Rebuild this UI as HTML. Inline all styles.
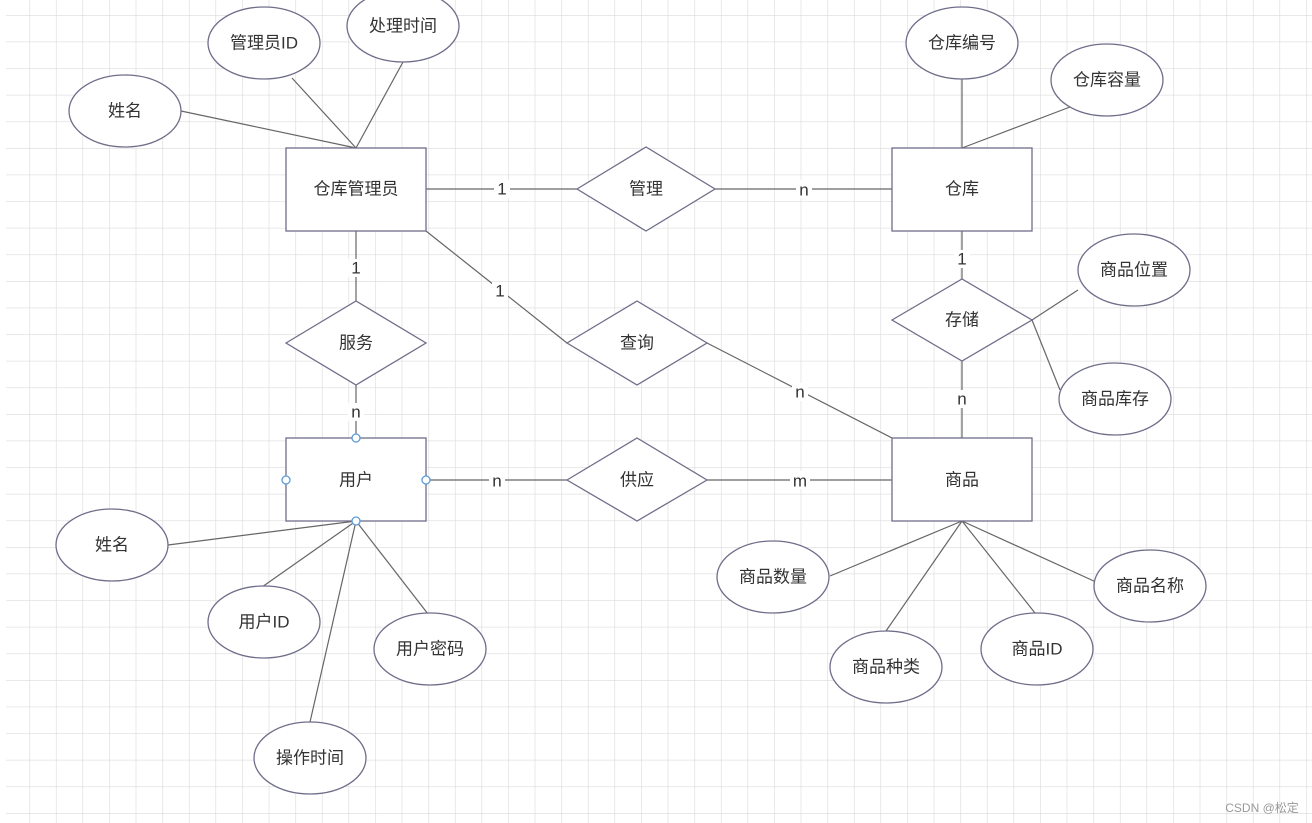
<!DOCTYPE html>
<html><head><meta charset="utf-8"><style>
html,body{margin:0;padding:0;background:#fff;}
svg{display:block;}
text{font-family:"Liberation Sans","Noto Sans CJK SC",sans-serif;font-size:17px;fill:#333;text-anchor:middle;dominant-baseline:central;}
.lbl{font-size:17px;fill:#222;}
</style></head><body>
<svg width="1312" height="823" viewBox="0 0 1312 823" xmlns="http://www.w3.org/2000/svg">
<defs>
<pattern id="g" x="2.7" y="15" width="26.6" height="26.6" patternUnits="userSpaceOnUse">
<path d="M0 0H26.6M0 0V26.6" stroke="#dadada" stroke-width="1.2" fill="none"/>
</pattern>
</defs>
<rect x="6" y="0" width="1306" height="823" fill="url(#g)"/>
<g stroke="#666" stroke-width="1.2" fill="none">
<line x1="356" y1="148" x2="181" y2="111"/>
<line x1="356" y1="148" x2="292" y2="78"/>
<line x1="356" y1="148" x2="403" y2="62"/>
<line x1="962" y1="148" x2="962" y2="79"/>
<line x1="962" y1="148" x2="1070" y2="107"/>
<line x1="426" y1="189" x2="577" y2="189"/>
<line x1="715" y1="189" x2="892" y2="189"/>
<line x1="356" y1="231" x2="356" y2="301"/>
<line x1="356" y1="385" x2="356" y2="438"/>
<line x1="426" y1="231" x2="567" y2="343"/>
<line x1="707" y1="343" x2="892" y2="438"/>
<line x1="962" y1="231" x2="962" y2="279"/>
<line x1="962" y1="361" x2="962" y2="438"/>
<line x1="1032" y1="320" x2="1078" y2="290"/>
<line x1="1032" y1="320" x2="1060" y2="390"/>
<line x1="426" y1="480" x2="567" y2="480"/>
<line x1="707" y1="480" x2="892" y2="480"/>
<line x1="356" y1="521" x2="168" y2="545"/>
<line x1="356" y1="521" x2="262" y2="587"/>
<line x1="356" y1="521" x2="428" y2="614"/>
<line x1="356" y1="521" x2="310" y2="722"/>
<line x1="962" y1="521" x2="830" y2="576"/>
<line x1="962" y1="521" x2="886" y2="631"/>
<line x1="962" y1="521" x2="1035" y2="613"/>
<line x1="962" y1="521" x2="1096" y2="582"/>
</g>
<g fill="#fff" stroke="#6e6e8a" stroke-width="1.3">
<rect x="286" y="148" width="140" height="83"/>
<rect x="892" y="148" width="140" height="83"/>
<rect x="286" y="438" width="140" height="83"/>
<rect x="892" y="438" width="140" height="83"/>
<polygon points="577,189 646,147 715,189 646,231"/>
<polygon points="286,343 356,301 426,343 356,385"/>
<polygon points="567,343 637,301 707,343 637,385"/>
<polygon points="892,320 962,279 1032,320 962,361"/>
<polygon points="567,480 637,438 707,480 637,521"/>
<ellipse cx="125" cy="111" rx="56" ry="36"/>
<ellipse cx="264" cy="43" rx="56" ry="36"/>
<ellipse cx="403" cy="26" rx="56" ry="36"/>
<ellipse cx="962" cy="43" rx="56" ry="36"/>
<ellipse cx="1107" cy="80" rx="56" ry="36"/>
<ellipse cx="1134" cy="270" rx="56" ry="36"/>
<ellipse cx="1115" cy="399" rx="56" ry="36"/>
<ellipse cx="112" cy="545" rx="56" ry="36"/>
<ellipse cx="264" cy="622" rx="56" ry="36"/>
<ellipse cx="430" cy="649" rx="56" ry="36"/>
<ellipse cx="310" cy="758" rx="56" ry="36"/>
<ellipse cx="773" cy="577" rx="56" ry="36"/>
<ellipse cx="886" cy="667" rx="56" ry="36"/>
<ellipse cx="1037" cy="649" rx="56" ry="36"/>
<ellipse cx="1150" cy="586" rx="56" ry="36"/>
</g>
<g fill="#fff" stroke="#5b9bd5" stroke-width="1.3">
<circle cx="356" cy="438" r="4"/><circle cx="286" cy="480" r="4"/>
<circle cx="426" cy="480" r="4"/><circle cx="356" cy="521" r="4"/>
</g>
<g>
<text x="356" y="189">仓库管理员</text>
<text x="962" y="189">仓库</text>
<text x="356" y="480">用户</text>
<text x="962" y="480">商品</text>
<text x="646" y="189">管理</text>
<text x="356" y="343">服务</text>
<text x="637" y="343">查询</text>
<text x="962" y="320">存储</text>
<text x="637" y="480">供应</text>
<text x="125" y="111">姓名</text>
<text x="264" y="43">管理员ID</text>
<text x="403" y="26">处理时间</text>
<text x="962" y="43">仓库编号</text>
<text x="1107" y="80">仓库容量</text>
<text x="1134" y="270">商品位置</text>
<text x="1115" y="399">商品库存</text>
<text x="112" y="545">姓名</text>
<text x="264" y="622">用户ID</text>
<text x="430" y="649">用户密码</text>
<text x="310" y="758">操作时间</text>
<text x="773" y="577">商品数量</text>
<text x="886" y="667">商品种类</text>
<text x="1037" y="649">商品ID</text>
<text x="1150" y="586">商品名称</text>
</g>
<g class="lbl">
<rect x="494" y="180" width="16" height="18" fill="#fff"/><text x="502" y="189">1</text>
<rect x="796" y="180" width="16" height="18" fill="#fff"/><text x="804" y="190">n</text>
<rect x="348" y="259" width="16" height="18" fill="#fff"/><text x="356" y="268">1</text>
<rect x="348" y="403" width="16" height="18" fill="#fff"/><text x="356" y="412">n</text>
<rect x="492" y="282" width="16" height="18" fill="#fff"/><text x="500" y="291">1</text>
<rect x="792" y="383" width="16" height="18" fill="#fff"/><text x="800" y="392">n</text>
<rect x="954" y="250" width="16" height="18" fill="#fff"/><text x="962" y="259">1</text>
<rect x="954" y="390" width="16" height="18" fill="#fff"/><text x="962" y="399">n</text>
<rect x="489" y="471" width="16" height="18" fill="#fff"/><text x="497" y="481">n</text>
<rect x="790" y="471" width="20" height="18" fill="#fff"/><text x="800" y="481">m</text>
</g>
<text x="1262" y="808" style="font-size:12px;fill:#999;">CSDN @松定</text>
</svg>
</body></html>
